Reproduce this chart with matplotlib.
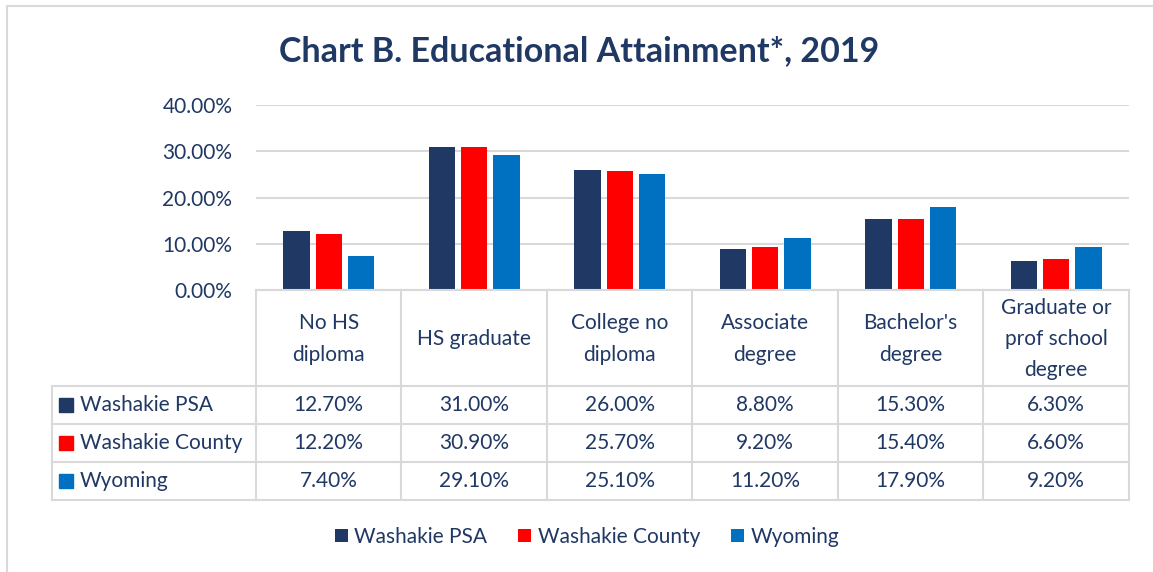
import matplotlib

matplotlib.use("Agg")

import matplotlib.pyplot as plt
from matplotlib.patches import Patch, Rectangle

# chart data
categories = [
    "No HS\ndiploma",
    "HS graduate",
    "College no\ndiploma",
    "Associate\ndegree",
    "Bachelor's\ndegree",
    "Graduate or\nprof school\ndegree",
]
series_names = ["Washakie PSA", "Washakie County", "Wyoming"]
washakie_psa = [12.7, 31.0, 26.0, 8.8, 15.3, 6.3]
washakie_county = [12.2, 30.9, 25.7, 9.2, 15.4, 6.6]
wyoming = [7.4, 29.1, 25.1, 11.2, 17.9, 9.2]
y_ticks = [0, 10, 20, 30, 40]

W, H = 1153, 572
NAVY = "#203864"
COLORS = ["#203864", "#FF0000", "#0070C0"]
GRID = "#D9D9D9"
FONT = "Lato"
FS = 15

plt.rcParams["font.family"] = [FONT, "DejaVu Sans"]

fig = plt.figure(figsize=(W / 100, H / 100), dpi=100)

# outer chart border (only left and top visible in the picture)
fig.patches.append(
    Rectangle((7 / W, -0.1), 1.1, 1.1 - 6 / H, transform=fig.transFigure,
              fill=False, edgecolor=GRID, linewidth=1.5)
)

fig.text(579 / W, 1 - 51 / H, "Chart B. Educational Attainment*, 2019",
         ha="center", va="center", fontsize=24.5, fontweight="bold", color=NAVY)

# bar area
left, right, top, bottom = 256, 1129, 105, 290
ax = fig.add_axes([left / W, 1 - bottom / H, (right - left) / W, (bottom - top) / H])
series = [washakie_psa, washakie_county, wyoming]
x = list(range(len(categories)))
for k, values in enumerate(series):
    ax.bar([i + (k - 1) * 0.222 for i in x], values, width=0.18,
           color=COLORS[k], zorder=3)
ax.set_xlim(-0.5, len(categories) - 0.5)
ax.set_ylim(0, 40)
ax.set_yticks(y_ticks)
ax.set_yticklabels([f"{t:.2f}%" for t in y_ticks], fontsize=FS, color=NAVY)
ax.tick_params(axis="y", length=0, pad=17)
ax.set_xticks([])
ax.grid(axis="y", color=GRID, linewidth=1.5, zorder=0)
for s in ax.spines.values():
    s.set_visible(False)

# data table below the bars
col_w = (right - left) / len(categories)
t_left, t_bottom = 52, 500
xmin = -0.5 - (left - t_left) / col_w
tab = fig.add_axes([t_left / W, 1 - t_bottom / H, (right - t_left) / W, (t_bottom - bottom) / H])
tab.set_xlim(xmin, len(categories) - 0.5)
tab.set_ylim(t_bottom, bottom)
tab.axis("off")

line_kw = dict(color=GRID, linewidth=1.5, clip_on=False)
tab.plot([-0.5, len(categories) - 0.5], [bottom, bottom], **line_kw)
row_lines = [386, 424, 462, 500]
for y in row_lines:
    tab.plot([xmin, len(categories) - 0.5], [y, y], **line_kw)
for k in range(len(categories) + 1):
    tab.plot([-0.5 + k, -0.5 + k], [bottom, t_bottom], **line_kw)
tab.plot([xmin, xmin], [row_lines[0], t_bottom], **line_kw)

for i, name in enumerate(categories):
    tab.text(i, (bottom + row_lines[0]) / 2 + 1, name, ha="center", va="center",
             fontsize=FS, color=NAVY, linespacing=1.7)

for r, (name, values) in enumerate(zip(series_names, series)):
    yc = (row_lines[r] + row_lines[r + 1]) / 2
    tab.plot([xmin + (66 - t_left) / col_w], [yc], marker="s", markersize=9.5,
             color=COLORS[r], linestyle="none", clip_on=False)
    tab.text(xmin + (80 - t_left) / col_w, yc, name, ha="left", va="center",
             fontsize=FS, color=NAVY)
    for i, v in enumerate(values):
        tab.text(i, yc, f"{v:.2f}%", ha="center", va="center", fontsize=FS, color=NAVY)

handles = [Patch(facecolor=c, edgecolor="none") for c in COLORS]
leg = fig.legend(handles, series_names, loc="center", bbox_to_anchor=(587 / W, 1 - 537 / H),
                 ncol=3, frameon=False, fontsize=FS, handlelength=0.62, handleheight=0.62,
                 handletextpad=0.3, columnspacing=1.5)
for t in leg.get_texts():
    t.set_color(NAVY)

fig.savefig("out.png", dpi=100)
